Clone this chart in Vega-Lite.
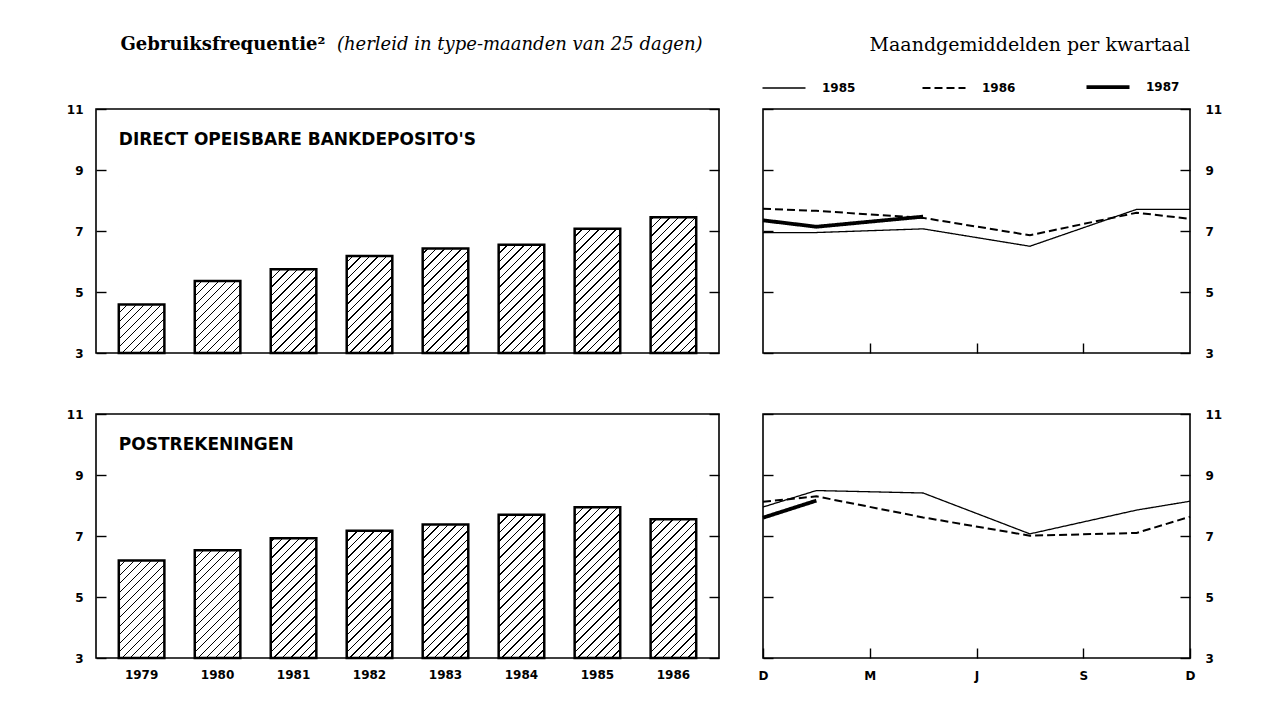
{
"$schema": "https://vega.github.io/schema/vega-lite/v6.json",
"background": "white",
"padding": {"left": 65, "top": 34, "right": 5, "bottom": 5},
"config": {
  "view": {"stroke": "#000", "strokeWidth": 1.6},
  "axis": {"grid": false, "domain": false, "tickColor": "#000", "tickWidth": 1.4, "labelColor": "#000", "labelFont": "DejaVu Sans", "labelFontWeight": "bold", "labelFontSize": 12, "labelFlush": false}
},
"resolve": {"scale": {"strokeDash": "independent"}, "legend": {"strokeDash": "independent"}},
"datasets": {
  "bars": [
    {"panel": "bank", "jaar": "1979", "v": 4.59},
    {"panel": "bank", "jaar": "1980", "v": 5.36},
    {"panel": "bank", "jaar": "1981", "v": 5.75},
    {"panel": "bank", "jaar": "1982", "v": 6.18},
    {"panel": "bank", "jaar": "1983", "v": 6.43},
    {"panel": "bank", "jaar": "1984", "v": 6.55},
    {"panel": "bank", "jaar": "1985", "v": 7.07},
    {"panel": "bank", "jaar": "1986", "v": 7.45},
    {"panel": "post", "jaar": "1979", "v": 6.2},
    {"panel": "post", "jaar": "1980", "v": 6.53},
    {"panel": "post", "jaar": "1981", "v": 6.93},
    {"panel": "post", "jaar": "1982", "v": 7.17},
    {"panel": "post", "jaar": "1983", "v": 7.38},
    {"panel": "post", "jaar": "1984", "v": 7.7},
    {"panel": "post", "jaar": "1985", "v": 7.94},
    {"panel": "post", "jaar": "1986", "v": 7.55}
  ],
  "lines": [
    {"panel": "bank", "jaar": "1985", "q": 0, "v": 6.95},
    {"panel": "bank", "jaar": "1985", "q": 0.5, "v": 6.95},
    {"panel": "bank", "jaar": "1985", "q": 1.5, "v": 7.07},
    {"panel": "bank", "jaar": "1985", "q": 2.5, "v": 6.5},
    {"panel": "bank", "jaar": "1985", "q": 3.5, "v": 7.71},
    {"panel": "bank", "jaar": "1985", "q": 4, "v": 7.71},
    {"panel": "bank", "jaar": "1986", "q": 0, "v": 7.73},
    {"panel": "bank", "jaar": "1986", "q": 0.5, "v": 7.66},
    {"panel": "bank", "jaar": "1986", "q": 1.5, "v": 7.43},
    {"panel": "bank", "jaar": "1986", "q": 2.5, "v": 6.86},
    {"panel": "bank", "jaar": "1986", "q": 3.5, "v": 7.6},
    {"panel": "bank", "jaar": "1986", "q": 4, "v": 7.4},
    {"panel": "bank", "jaar": "1987", "q": 0, "v": 7.35},
    {"panel": "bank", "jaar": "1987", "q": 0.5, "v": 7.14},
    {"panel": "bank", "jaar": "1987", "q": 1.5, "v": 7.47},
    {"panel": "post", "jaar": "1985", "q": 0, "v": 7.95},
    {"panel": "post", "jaar": "1985", "q": 0.5, "v": 8.49},
    {"panel": "post", "jaar": "1985", "q": 1.5, "v": 8.41},
    {"panel": "post", "jaar": "1985", "q": 2.5, "v": 7.07},
    {"panel": "post", "jaar": "1985", "q": 3.5, "v": 7.85},
    {"panel": "post", "jaar": "1985", "q": 4, "v": 8.14},
    {"panel": "post", "jaar": "1986", "q": 0, "v": 8.12},
    {"panel": "post", "jaar": "1986", "q": 0.5, "v": 8.3},
    {"panel": "post", "jaar": "1986", "q": 1.5, "v": 7.61},
    {"panel": "post", "jaar": "1986", "q": 2.5, "v": 7.01},
    {"panel": "post", "jaar": "1986", "q": 3.5, "v": 7.1},
    {"panel": "post", "jaar": "1986", "q": 4, "v": 7.63},
    {"panel": "post", "jaar": "1987", "q": 0, "v": 7.6},
    {"panel": "post", "jaar": "1987", "q": 0.5, "v": 8.16}
  ]
},
"spacing": 47,
"vconcat": [
  {
    "spacing": 33,
    "resolve": {"scale": {"strokeDash": "independent"}, "legend": {"strokeDash": "independent"}},
    "hconcat": [
      {
        "width": 623, "height": 244,
        "data": {"name": "bars"},
        "transform": [{"filter": "datum.panel === 'bank'"}],
        "encoding": {"x": {"field": "jaar", "type": "ordinal", "scale": {"paddingInner": 0.4, "paddingOuter": 0.3}, "axis": null}},
        "layer": [
          {
            "mark": {"type": "bar", "fill": {"gradient": "linear", "x1": 0, "y1": 0, "x2": 0.3334, "y2": 1.2268, "stops": [
              {"offset": 0, "color": "#000"}, {"offset": 0.0065, "color": "#000"}, {"offset": 0.0065, "color": "#fff"}, {"offset": 0.0385, "color": "#fff"},
              {"offset": 0.0385, "color": "#000"}, {"offset": 0.045, "color": "#000"}, {"offset": 0.045, "color": "#fff"}, {"offset": 0.0769, "color": "#fff"},
              {"offset": 0.0769, "color": "#000"}, {"offset": 0.0834, "color": "#000"}, {"offset": 0.0834, "color": "#fff"}, {"offset": 0.1154, "color": "#fff"},
              {"offset": 0.1154, "color": "#000"}, {"offset": 0.1219, "color": "#000"}, {"offset": 0.1219, "color": "#fff"}, {"offset": 0.1538, "color": "#fff"},
              {"offset": 0.1538, "color": "#000"}, {"offset": 0.1603, "color": "#000"}, {"offset": 0.1603, "color": "#fff"}, {"offset": 0.1923, "color": "#fff"},
              {"offset": 0.1923, "color": "#000"}, {"offset": 0.1988, "color": "#000"}, {"offset": 0.1988, "color": "#fff"}, {"offset": 0.2308, "color": "#fff"},
              {"offset": 0.2308, "color": "#000"}, {"offset": 0.2373, "color": "#000"}, {"offset": 0.2373, "color": "#fff"}, {"offset": 0.2692, "color": "#fff"},
              {"offset": 0.2692, "color": "#000"}, {"offset": 0.2757, "color": "#000"}, {"offset": 0.2757, "color": "#fff"}, {"offset": 0.3077, "color": "#fff"},
              {"offset": 0.3077, "color": "#000"}, {"offset": 0.3142, "color": "#000"}, {"offset": 0.3142, "color": "#fff"}, {"offset": 0.3462, "color": "#fff"},
              {"offset": 0.3462, "color": "#000"}, {"offset": 0.3527, "color": "#000"}, {"offset": 0.3527, "color": "#fff"}, {"offset": 0.3846, "color": "#fff"},
              {"offset": 0.3846, "color": "#000"}, {"offset": 0.3911, "color": "#000"}, {"offset": 0.3911, "color": "#fff"}, {"offset": 0.4231, "color": "#fff"},
              {"offset": 0.4231, "color": "#000"}, {"offset": 0.4296, "color": "#000"}, {"offset": 0.4296, "color": "#fff"}, {"offset": 0.4615, "color": "#fff"},
              {"offset": 0.4615, "color": "#000"}, {"offset": 0.468, "color": "#000"}, {"offset": 0.468, "color": "#fff"}, {"offset": 0.5, "color": "#fff"},
              {"offset": 0.5, "color": "#000"}, {"offset": 0.5065, "color": "#000"}, {"offset": 0.5065, "color": "#fff"}, {"offset": 0.5385, "color": "#fff"},
              {"offset": 0.5385, "color": "#000"}, {"offset": 0.545, "color": "#000"}, {"offset": 0.545, "color": "#fff"}, {"offset": 0.5769, "color": "#fff"},
              {"offset": 0.5769, "color": "#000"}, {"offset": 0.5834, "color": "#000"}, {"offset": 0.5834, "color": "#fff"}, {"offset": 0.6154, "color": "#fff"},
              {"offset": 0.6154, "color": "#000"}, {"offset": 0.6219, "color": "#000"}, {"offset": 0.6219, "color": "#fff"}, {"offset": 0.6538, "color": "#fff"},
              {"offset": 0.6538, "color": "#000"}, {"offset": 0.6603, "color": "#000"}, {"offset": 0.6603, "color": "#fff"}, {"offset": 0.6923, "color": "#fff"},
              {"offset": 0.6923, "color": "#000"}, {"offset": 0.6988, "color": "#000"}, {"offset": 0.6988, "color": "#fff"}, {"offset": 0.7308, "color": "#fff"},
              {"offset": 0.7308, "color": "#000"}, {"offset": 0.7373, "color": "#000"}, {"offset": 0.7373, "color": "#fff"}, {"offset": 0.7692, "color": "#fff"},
              {"offset": 0.7692, "color": "#000"}, {"offset": 0.7757, "color": "#000"}, {"offset": 0.7757, "color": "#fff"}, {"offset": 0.8077, "color": "#fff"},
              {"offset": 0.8077, "color": "#000"}, {"offset": 0.8142, "color": "#000"}, {"offset": 0.8142, "color": "#fff"}, {"offset": 0.8462, "color": "#fff"},
              {"offset": 0.8462, "color": "#000"}, {"offset": 0.8527, "color": "#000"}, {"offset": 0.8527, "color": "#fff"}, {"offset": 0.8846, "color": "#fff"},
              {"offset": 0.8846, "color": "#000"}, {"offset": 0.8911, "color": "#000"}, {"offset": 0.8911, "color": "#fff"}, {"offset": 0.9231, "color": "#fff"},
              {"offset": 0.9231, "color": "#000"}, {"offset": 0.9296, "color": "#000"}, {"offset": 0.9296, "color": "#fff"}, {"offset": 0.9615, "color": "#fff"},
              {"offset": 0.9615, "color": "#000"}, {"offset": 0.968, "color": "#000"}, {"offset": 0.968, "color": "#fff"}, {"offset": 1, "color": "#fff"}
            ]}},
            "encoding": {
              "y": {"datum": 3, "type": "quantitative", "scale": {"domain": [3, 11], "nice": false, "zero": false},
                "axis": {"orient": "left", "values": [3, 5, 7, 9, 11], "tickSize": -10, "labelPadding": 23,
                  "title": "Gebruiksfrequentie²", "titleAngle": 0, "titleAlign": "left", "titleBaseline": "alphabetic", "titleX": 24, "titleY": -60,
                  "titleFont": "DejaVu Serif", "titleFontSize": 18, "titleFontWeight": "bold", "titleColor": "#000"}},
              "y2": {"datum": 8.5}
            }
          },
          {
            "mark": {"type": "bar", "fill": "#fff", "stroke": "#fff", "strokeWidth": 1.5},
            "encoding": {
              "y": {"field": "v", "type": "quantitative",
                "axis": {"orient": "right", "values": [3, 5, 7, 9, 11], "tickSize": -10, "labels": false,
                  "title": "(herleid in type-maanden van 25 dagen)", "titleAngle": 0, "titleAlign": "right", "titleBaseline": "alphabetic", "titleX": -17, "titleY": -60,
                  "titleFont": "DejaVu Serif", "titleFontSize": 18, "titleFontStyle": "italic", "titleFontWeight": "normal", "titleColor": "#000"}},
              "y2": {"datum": 8.6}
            }
          },
          {
            "mark": {"type": "bar", "filled": false, "stroke": "#000", "strokeWidth": 2.5},
            "encoding": {"y": {"field": "v", "type": "quantitative", "axis": null}, "y2": {"datum": 3}}
          },
          {
            "data": {"values": [{"label": "DIRECT OPEISBARE BANKDEPOSITO'S"}]},
            "mark": {"type": "text", "align": "left", "baseline": "middle", "font": "DejaVu Sans", "fontWeight": "bold", "fontSize": 17, "color": "#000"},
            "encoding": {
              "x": {"datum": "1979", "bandPosition": 0},
              "y": {"datum": 10, "axis": null},
              "text": {"field": "label"}
            }
          }
        ],
        "resolve": {"axis": {"y": "independent"}}
      },
      {
        "width": 427, "height": 244,
        "title": {"text": "Maandgemiddelden per kwartaal", "anchor": "end", "frame": "group", "font": "DejaVu Serif", "fontSize": 19, "fontWeight": "normal", "color": "#000", "offset": 26},
        "data": {"name": "lines"},
        "transform": [{"filter": "datum.panel === 'bank'"}],
        "encoding": {
          "x": {"field": "q", "type": "quantitative", "scale": {"domain": [0, 4], "nice": false, "zero": false},
            "axis": {"values": [1, 2, 3], "tickSize": -10, "labels": false, "title": null}}
        },
        "layer": [
          {
            "mark": {"type": "line", "color": "#000", "strokeCap": "butt"},
            "encoding": {
              "y": {"field": "v", "type": "quantitative", "scale": {"domain": [3, 11], "nice": false, "zero": false},
                "axis": {"orient": "right", "values": [3, 5, 7, 9, 11], "tickSize": -10, "labelPadding": 25, "title": null}},
              "strokeDash": {"field": "jaar", "type": "nominal", "scale": {"domain": ["1985", "1986", "1987"], "range": [[1, 0], [8, 4], [1, 0]]},
                "legend": {"orient": "none", "legendX": 15, "legendY": -28, "direction": "horizontal", "title": null, "symbolType": "stroke", "symbolSize": 1850, "symbolStrokeColor": "#000",
                  "labelFont": "DejaVu Sans", "labelFontWeight": "bold", "labelFontSize": 12, "labelColor": "#000", "labelOffset": 32, "columnPadding": 62,
                  "encode": {"symbols": {"update": {"strokeWidth": {"signal": "datum.value === '1987' ? 3.8 : (datum.value === '1986' ? 2 : 1.3)"}}}}}},
              "strokeWidth": {"condition": [{"test": "datum.jaar === '1987'", "value": 3.8}, {"test": "datum.jaar === '1986'", "value": 2}], "value": 1.3}
            }
          },
          {
            "mark": {"type": "point", "opacity": 0, "size": 0},
            "encoding": {
              "y": {"field": "v", "type": "quantitative",
                "axis": {"orient": "left", "values": [3, 5, 7, 9, 11], "tickSize": -10, "labels": false, "title": null}}
            }
          }
        ],
        "resolve": {"axis": {"y": "independent"}}
      }
    ]
  },
  {
    "spacing": 33,
    "resolve": {"scale": {"strokeDash": "independent"}, "legend": {"strokeDash": "independent"}},
    "hconcat": [
      {
        "width": 623, "height": 244,
        "data": {"name": "bars"},
        "transform": [{"filter": "datum.panel === 'post'"}],
        "encoding": {"x": {"field": "jaar", "type": "ordinal", "scale": {"paddingInner": 0.4, "paddingOuter": 0.3},
          "axis": {"orient": "bottom", "ticks": false, "labelPadding": 11, "labelAngle": 0, "labelFontSize": 12, "title": null}}},
        "layer": [
          {
            "mark": {"type": "bar", "fill": {"gradient": "linear", "x1": 0, "y1": 0, "x2": 0.3334, "y2": 1.2268, "stops": [
              {"offset": 0, "color": "#000"}, {"offset": 0.0065, "color": "#000"}, {"offset": 0.0065, "color": "#fff"}, {"offset": 0.0385, "color": "#fff"},
              {"offset": 0.0385, "color": "#000"}, {"offset": 0.045, "color": "#000"}, {"offset": 0.045, "color": "#fff"}, {"offset": 0.0769, "color": "#fff"},
              {"offset": 0.0769, "color": "#000"}, {"offset": 0.0834, "color": "#000"}, {"offset": 0.0834, "color": "#fff"}, {"offset": 0.1154, "color": "#fff"},
              {"offset": 0.1154, "color": "#000"}, {"offset": 0.1219, "color": "#000"}, {"offset": 0.1219, "color": "#fff"}, {"offset": 0.1538, "color": "#fff"},
              {"offset": 0.1538, "color": "#000"}, {"offset": 0.1603, "color": "#000"}, {"offset": 0.1603, "color": "#fff"}, {"offset": 0.1923, "color": "#fff"},
              {"offset": 0.1923, "color": "#000"}, {"offset": 0.1988, "color": "#000"}, {"offset": 0.1988, "color": "#fff"}, {"offset": 0.2308, "color": "#fff"},
              {"offset": 0.2308, "color": "#000"}, {"offset": 0.2373, "color": "#000"}, {"offset": 0.2373, "color": "#fff"}, {"offset": 0.2692, "color": "#fff"},
              {"offset": 0.2692, "color": "#000"}, {"offset": 0.2757, "color": "#000"}, {"offset": 0.2757, "color": "#fff"}, {"offset": 0.3077, "color": "#fff"},
              {"offset": 0.3077, "color": "#000"}, {"offset": 0.3142, "color": "#000"}, {"offset": 0.3142, "color": "#fff"}, {"offset": 0.3462, "color": "#fff"},
              {"offset": 0.3462, "color": "#000"}, {"offset": 0.3527, "color": "#000"}, {"offset": 0.3527, "color": "#fff"}, {"offset": 0.3846, "color": "#fff"},
              {"offset": 0.3846, "color": "#000"}, {"offset": 0.3911, "color": "#000"}, {"offset": 0.3911, "color": "#fff"}, {"offset": 0.4231, "color": "#fff"},
              {"offset": 0.4231, "color": "#000"}, {"offset": 0.4296, "color": "#000"}, {"offset": 0.4296, "color": "#fff"}, {"offset": 0.4615, "color": "#fff"},
              {"offset": 0.4615, "color": "#000"}, {"offset": 0.468, "color": "#000"}, {"offset": 0.468, "color": "#fff"}, {"offset": 0.5, "color": "#fff"},
              {"offset": 0.5, "color": "#000"}, {"offset": 0.5065, "color": "#000"}, {"offset": 0.5065, "color": "#fff"}, {"offset": 0.5385, "color": "#fff"},
              {"offset": 0.5385, "color": "#000"}, {"offset": 0.545, "color": "#000"}, {"offset": 0.545, "color": "#fff"}, {"offset": 0.5769, "color": "#fff"},
              {"offset": 0.5769, "color": "#000"}, {"offset": 0.5834, "color": "#000"}, {"offset": 0.5834, "color": "#fff"}, {"offset": 0.6154, "color": "#fff"},
              {"offset": 0.6154, "color": "#000"}, {"offset": 0.6219, "color": "#000"}, {"offset": 0.6219, "color": "#fff"}, {"offset": 0.6538, "color": "#fff"},
              {"offset": 0.6538, "color": "#000"}, {"offset": 0.6603, "color": "#000"}, {"offset": 0.6603, "color": "#fff"}, {"offset": 0.6923, "color": "#fff"},
              {"offset": 0.6923, "color": "#000"}, {"offset": 0.6988, "color": "#000"}, {"offset": 0.6988, "color": "#fff"}, {"offset": 0.7308, "color": "#fff"},
              {"offset": 0.7308, "color": "#000"}, {"offset": 0.7373, "color": "#000"}, {"offset": 0.7373, "color": "#fff"}, {"offset": 0.7692, "color": "#fff"},
              {"offset": 0.7692, "color": "#000"}, {"offset": 0.7757, "color": "#000"}, {"offset": 0.7757, "color": "#fff"}, {"offset": 0.8077, "color": "#fff"},
              {"offset": 0.8077, "color": "#000"}, {"offset": 0.8142, "color": "#000"}, {"offset": 0.8142, "color": "#fff"}, {"offset": 0.8462, "color": "#fff"},
              {"offset": 0.8462, "color": "#000"}, {"offset": 0.8527, "color": "#000"}, {"offset": 0.8527, "color": "#fff"}, {"offset": 0.8846, "color": "#fff"},
              {"offset": 0.8846, "color": "#000"}, {"offset": 0.8911, "color": "#000"}, {"offset": 0.8911, "color": "#fff"}, {"offset": 0.9231, "color": "#fff"},
              {"offset": 0.9231, "color": "#000"}, {"offset": 0.9296, "color": "#000"}, {"offset": 0.9296, "color": "#fff"}, {"offset": 0.9615, "color": "#fff"},
              {"offset": 0.9615, "color": "#000"}, {"offset": 0.968, "color": "#000"}, {"offset": 0.968, "color": "#fff"}, {"offset": 1, "color": "#fff"}
            ]}},
            "encoding": {
              "y": {"datum": 3, "type": "quantitative", "scale": {"domain": [3, 11], "nice": false, "zero": false},
                "axis": {"orient": "left", "values": [3, 5, 7, 9, 11], "tickSize": -10, "labelPadding": 23, "title": null}},
              "y2": {"datum": 8.5}
            }
          },
          {
            "mark": {"type": "bar", "fill": "#fff", "stroke": "#fff", "strokeWidth": 1.5},
            "encoding": {
              "y": {"field": "v", "type": "quantitative",
                "axis": {"orient": "right", "values": [3, 5, 7, 9, 11], "tickSize": -10, "labels": false, "title": null}},
              "y2": {"datum": 8.6}
            }
          },
          {
            "mark": {"type": "bar", "filled": false, "stroke": "#000", "strokeWidth": 2.5},
            "encoding": {"y": {"field": "v", "type": "quantitative", "axis": null}, "y2": {"datum": 3}}
          },
          {
            "data": {"values": [{"label": "POSTREKENINGEN"}]},
            "mark": {"type": "text", "align": "left", "baseline": "middle", "font": "DejaVu Sans", "fontWeight": "bold", "fontSize": 17, "color": "#000"},
            "encoding": {
              "x": {"datum": "1979", "bandPosition": 0},
              "y": {"datum": 10, "axis": null},
              "text": {"field": "label"}
            }
          }
        ],
        "resolve": {"axis": {"y": "independent"}}
      },
      {
        "width": 427, "height": 244,
        "data": {"name": "lines"},
        "transform": [{"filter": "datum.panel === 'post'"}],
        "encoding": {
          "x": {"field": "q", "type": "quantitative", "scale": {"domain": [0, 4], "nice": false, "zero": false},
            "axis": {"values": [0, 1, 2, 3, 4], "tickSize": -10, "labelPadding": 22, "labelFontSize": 12, "labelExpr": "['D','M','J','S','D'][datum.value]", "title": null}}
        },
        "layer": [
          {
            "mark": {"type": "line", "color": "#000", "strokeCap": "butt"},
            "encoding": {
              "y": {"field": "v", "type": "quantitative", "scale": {"domain": [3, 11], "nice": false, "zero": false},
                "axis": {"orient": "right", "values": [3, 5, 7, 9, 11], "tickSize": -10, "labelPadding": 25, "title": null}},
              "strokeDash": {"field": "jaar", "type": "nominal", "scale": {"domain": ["1985", "1986", "1987"], "range": [[1, 0], [8, 4], [1, 0]]}, "legend": null},
              "strokeWidth": {"condition": [{"test": "datum.jaar === '1987'", "value": 3.8}, {"test": "datum.jaar === '1986'", "value": 2}], "value": 1.3}
            }
          },
          {
            "mark": {"type": "point", "opacity": 0, "size": 0},
            "encoding": {
              "y": {"field": "v", "type": "quantitative",
                "axis": {"orient": "left", "values": [3, 5, 7, 9, 11], "tickSize": -10, "labels": false, "title": null}}
            }
          }
        ],
        "resolve": {"axis": {"y": "independent"}}
      }
    ]
  }
]
}
